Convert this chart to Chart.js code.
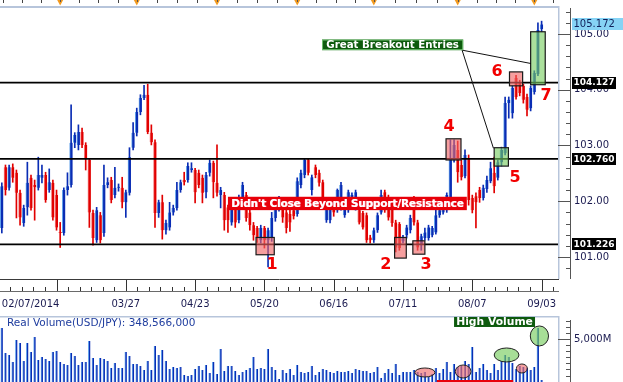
<!DOCTYPE html>
<html><head><meta charset="utf-8">
<script src="https://cdn.jsdelivr.net/npm/chart.js@4.4.1/dist/chart.umd.min.js"></script>
<style>
html,body{margin:0;padding:0;background:#fff;width:623px;height:382px;overflow:hidden}
#c1{position:absolute;left:0;top:0}
#c2{position:absolute;left:0;top:316px}
</style></head>
<body>
<canvas id="c1" width="623" height="316"></canvas>
<canvas id="c2" width="623" height="84"></canvas>
<script>
// ---------------- DATA ----------------
const openP = [101.52,102.61,102.24,102.61,102.51,102.15,101.61,101.89,102.42,102.29,
102.24,102.42,102.47,102.20,102.33,102.11,101.44,101.43,102.20,102.29,
103.05,103.01,103.24,103.01,102.74,101.79,101.30,101.75,101.43,102.29,
102.38,102.11,102.24,102.24,101.98,102.15,102.96,103.23,103.60,103.85,
103.91,103.23,103.06,101.79,101.98,101.48,101.53,101.80,101.88,102.20,
102.38,102.38,102.56,102.56,102.51,102.42,102.16,102.51,102.69,102.33,
102.11,102.11,101.89,101.62,102.02,101.66,102.06,102.11,101.80,101.57,
101.52,101.30,101.52,101.30,101.34,101.70,101.88,101.93,101.80,101.77,
101.84,101.77,102.29,102.47,102.74,102.20,102.61,102.51,102.34,101.66,
101.66,101.98,101.84,101.89,101.75,101.84,101.93,101.89,101.84,101.79,
101.75,101.35,101.30,101.48,101.80,102.16,102.07,101.89,101.62,101.59,
101.28,101.39,101.48,102.06,101.62,101.21,101.34,101.34,101.39,101.44,
101.75,101.80,101.84,101.93,102.77,102.92,102.65,102.45,102.77,102.06,
102.09,102.20,102.06,102.22,102.36,102.51,102.42,102.70,102.86,103.76,
103.58,104.21,104.12,104.07,103.87,103.67,103.96,104.28,105.09];
const highP = [102.33,102.65,102.65,102.67,102.56,102.20,101.93,102.70,102.47,102.38,
102.79,102.65,102.52,102.58,102.38,102.20,101.62,102.24,102.51,103.73,
103.23,103.37,103.31,103.05,102.77,101.84,101.89,101.80,102.65,102.42,
102.43,102.61,102.31,102.43,102.20,102.96,103.41,103.67,103.91,104.08,
104.10,103.37,103.10,102.02,102.11,101.66,101.98,101.93,102.34,102.38,
102.52,102.69,102.69,102.59,102.56,102.47,102.52,102.74,102.72,103.01,
102.25,102.16,101.93,102.02,102.06,102.11,102.34,102.16,101.84,101.62,
101.55,101.57,101.55,101.52,101.80,101.93,102.09,102.02,101.84,101.84,
101.89,102.42,102.56,102.77,102.77,102.47,102.65,102.56,102.38,102.02,
101.93,102.02,102.22,102.34,101.98,102.20,102.15,102.20,101.88,101.82,
101.79,101.39,101.52,101.79,102.20,102.20,102.11,101.95,101.66,101.62,
101.39,101.57,101.75,102.09,101.66,101.41,101.52,101.57,101.55,101.84,
101.88,101.97,102.15,103.10,103.10,103.08,102.74,102.92,102.83,102.11,
102.15,102.25,102.29,102.45,102.70,102.79,102.74,102.97,103.87,103.87,
104.07,104.26,104.17,104.10,103.92,104.07,104.34,105.20,105.23];
const lowP = [101.43,102.11,102.20,102.34,101.70,101.57,101.55,101.75,101.84,101.66,
102.20,102.33,101.98,102.16,101.66,101.48,101.17,101.39,102.11,102.25,
102.96,102.92,102.96,102.56,101.53,101.21,101.26,101.25,101.37,102.24,
101.97,102.06,102.18,101.88,101.71,102.11,102.92,103.17,103.55,103.82,
103.21,103.01,101.53,101.71,101.32,101.41,101.48,101.75,101.84,102.16,
102.29,102.34,102.52,101.97,102.24,101.97,102.06,102.45,102.06,102.09,
101.88,101.48,101.44,101.57,101.53,101.61,102.02,101.64,101.48,101.30,
101.26,101.25,101.16,100.82,101.28,101.64,101.82,101.62,101.43,101.46,
101.68,101.73,102.24,102.42,102.47,102.11,102.42,102.27,102.02,101.62,
101.61,101.73,101.80,101.84,101.71,101.80,101.88,101.84,101.59,101.50,
101.26,101.25,101.26,101.44,101.77,101.80,101.66,101.55,101.09,101.12,
101.25,101.34,101.43,101.57,101.12,101.12,101.30,101.30,101.36,101.41,
101.71,101.77,101.80,101.89,102.70,102.34,102.38,102.42,101.93,101.79,
101.52,101.98,102.02,102.16,102.33,102.15,102.38,102.63,102.83,103.49,
103.49,103.83,103.89,103.76,103.53,103.62,103.92,104.25,105.04];
const closeP = [102.27,102.20,102.61,102.42,102.15,101.71,101.88,102.33,101.88,102.25,
102.47,102.47,102.02,102.34,101.71,101.53,101.43,102.20,102.27,103.05,
103.19,103.24,103.01,102.77,101.80,101.34,101.84,101.30,102.29,102.34,
102.02,102.24,102.25,101.98,102.16,102.79,103.23,103.60,103.85,103.91,
103.24,103.06,101.79,101.98,101.48,101.61,101.80,101.88,102.20,102.34,
102.34,102.63,102.59,102.16,102.29,102.15,102.47,102.69,102.34,102.15,
102.20,101.66,101.66,101.98,101.62,102.06,102.29,101.70,101.57,101.39,
101.35,101.52,101.30,101.48,101.70,101.88,102.02,101.71,101.52,101.62,
101.73,102.36,102.51,102.74,102.51,102.43,102.47,102.33,102.07,101.98,
101.89,101.80,102.20,102.29,101.93,102.16,102.11,102.16,101.62,101.53,
101.30,101.30,101.48,101.75,102.11,101.84,101.71,101.61,101.17,101.16,
101.34,101.53,101.70,101.62,101.17,101.37,101.44,101.53,101.52,101.75,
101.84,101.93,102.11,102.77,103.01,102.52,102.43,102.83,102.02,101.84,
101.98,102.06,102.24,102.38,102.59,102.27,102.70,102.92,103.76,103.82,
104.03,103.87,103.94,103.82,103.64,104.03,104.30,105.07,105.172];
// volume, millions
const volumeM = [5900,3850,3690,3120,4920,4670,3200,4670,3940,5170,
3280,3530,3360,3200,3940,4020,3120,2950,2870,3850,
3610,2870,3120,3120,4840,3440,2870,3440,3360,3200,
2620,3030,2620,2620,3940,3610,2950,2950,2790,2460,
3200,2460,4430,3690,4100,3200,2540,2710,2620,2710,
2050,1970,2050,2540,2790,2460,2870,2210,3120,2130,
4180,2380,2790,2790,2380,2050,2300,2460,2620,3530,
2540,2620,2540,4180,2710,2460,1720,2460,2210,2540,
2050,2870,2300,2210,2300,2790,2050,2300,2540,2460,
2300,2210,2380,2300,2300,2380,2210,2540,2460,2380,
2380,2210,2300,2710,1800,2210,2540,2210,2950,2050,
2300,2300,2300,2460,2300,2210,2300,1890,2130,2620,
2210,2540,3120,2300,2950,2710,2790,3200,2950,4350,
2300,2620,2950,2460,2210,2950,2460,3200,3690,3530,
3030,2540,2790,2710,2620,2460,2710,5900,1640];
const priceTicks = [101, 102, 103, 104, 105];
const levels = [104.127, 102.760, 101.226];
const lastPrice = 105.172;
const dateTickDates = ['02/07/2014','03/27/2014','04/23/2014','05/20/2014','06/16/2014','07/11/2014','08/07/2014','09/03/2014'];
const dateTickLabels = ['02/07/2014','03/27','04/23','05/20','06/16','07/11','08/07','09/03'];
const majorDateDates = ['02/28/2014','03/27/2014','04/23/2014','05/20/2014','06/16/2014','07/11/2014','08/07/2014','09/03/2014'];
const volumeTicks = [5000];
const volumeTitle = 'Real Volume(USD/JPY): 348,566,000';

// trading-day categories (weekdays) incl. a few empty future slots
function weekdays(startISO, n){
  const out=[]; const d=new Date(startISO+'T00:00:00Z');
  while(out.length<n){
    const wd=d.getUTCDay();
    if(wd!==0&&wd!==6){
      const mm=String(d.getUTCMonth()+1).padStart(2,'0'), dd=String(d.getUTCDate()).padStart(2,'0');
      out.push(mm+'/'+dd+'/'+d.getUTCFullYear());
    }
    d.setUTCDate(d.getUTCDate()+1);
  }
  return out;
}
const categories = weekdays('2014-02-07', 153);

// annotations (data coordinates: category index, price)
const boxes = [
  {i0:69.7,i1:74.7,p0:101.35,p1:101.04,kind:'red'},
  {i0:107.7,i1:110.9,p0:101.35,p1:100.98,kind:'red'},
  {i0:112.7,i1:116.0,p0:101.29,p1:101.05,kind:'red'},
  {i0:121.8,i1:125.9,p0:103.12,p1:102.74,kind:'red'},
  {i0:135.0,i1:138.9,p0:102.96,p1:102.63,kind:'green'},
  {i0:139.2,i1:142.8,p0:104.32,p1:104.07,kind:'red'},
  {i0:145.0,i1:149.0,p0:105.04,p1:104.09,kind:'green'}
];
const numberLabels = [
  {t:'1',i:74.1,p:100.86},{t:'2',i:105.3,p:100.86},{t:'3',i:116.3,p:100.86},
  {t:'4',i:122.6,p:103.33},{t:'5',i:140.7,p:102.42},{t:'6',i:135.8,p:104.32},{t:'7',i:149.2,p:103.89}
];
const breakoutLabel = {t:'Great Breakout Entries', i0:87.8, i1:126.5, p0:104.90, p1:104.71};
const breakoutLines = [{i0:126.2,p0:104.71,i1:145.1,p1:104.47},{i0:126.2,p0:104.71,i1:134.8,p1:102.95}];
const closeBanner = {t:"Didn't Close Beyond Support/Resistance", i0:62.0, i1:127.5, p0:102.08, p1:101.84};
const volLabel = {t:'High Volume', i0:124.0, i1:146.2, v0:6806, v1:5986};
const volEllipses = [
  {i:147.4,v:5250,ri:2.5,rv:820,kind:'green'},
  {i:138.4,v:3690,ri:3.4,rv:574,kind:'green'},
  {i:142.6,v:2583,ri:1.5,rv:369,kind:'red'},
  {i:116.0,v:2255,ri:2.75,rv:369,kind:'red'},
  {i:126.5,v:2337,ri:2.15,rv:533,kind:'red'}
];

// ---------------- STYLE ----------------
const FONT = '"DejaVu Sans", Verdana, sans-serif';
const AXIS_TXT = '#1a1a50';
const UP='#0a2db4', UP_EDGE='#62a2ea', DN='#e10000', DN_EDGE='#f38080';
const isUp = closeP.map((c,i)=>c>=openP[i]);

function fitFont(ctx, text, maxW, size, weight){
  let s=size;
  while(s>6){ ctx.font=weight+' '+s+'px '+FONT; if(ctx.measureText(text).width<=maxW) break; s-=0.25; }
  return ctx.font;
}
function noPad(s){ s.paddingTop=0; s.paddingBottom=0; s.paddingLeft=0; s.paddingRight=0; }

const mainDecor = {
  id:'mainDecor',
  afterDraw(chart){
    const {ctx, chartArea:a, scales:{x,y}} = chart;
    const X=i=>x.getPixelForValue(i), Y=p=>y.getPixelForValue(p);
    ctx.save();
    // top strip + borders
    ctx.fillStyle='#b7c5db';
    ctx.fillRect(0,a.top-2,a.right+1,2);
    ctx.fillRect(a.right,a.top-2,1.5,a.bottom-a.top+2);
    // month markers on top strip
    const monthStarts=[];
    for(let i=1;i<categories.length;i++) if(categories[i].slice(0,2)!==categories[i-1].slice(0,2)) monthStarts.push(i);
    const step0=(monthStarts[1]-monthStarts[0])/4;
    const small=[];
    for(let v=monthStarts[0]-step0; v>-1; v-=step0) small.push(v);
    for(let k=0;k<monthStarts.length;k++){
      const s=monthStarts[k], e=(k+1<monthStarts.length)?monthStarts[k+1]:s+4*step0;
      for(let q=1;q<4;q++) small.push(s+(e-s)*q/4);
    }
    ctx.strokeStyle='#444'; ctx.lineWidth=1;
    small.forEach(v=>{const px=Math.round(X(v))+0.5; if(px<a.right){ctx.beginPath();ctx.moveTo(px,0);ctx.lineTo(px,3);ctx.stroke();}});
    monthStarts.forEach(v=>{
      const px=X(v);
      ctx.fillStyle='#f39a1e';
      ctx.beginPath(); ctx.moveTo(px-3,0); ctx.lineTo(px+3,0); ctx.lineTo(px,5.5); ctx.closePath(); ctx.fill();
      ctx.strokeStyle='#555'; ctx.beginPath(); ctx.moveTo(Math.round(px)+0.5,0); ctx.lineTo(Math.round(px)+0.5,2); ctx.stroke();
    });
    // date strip
    ctx.strokeStyle='#3a3a3a'; ctx.lineWidth=1;
    ctx.beginPath(); ctx.moveTo(0,a.bottom+0.5); ctx.lineTo(a.right+1,a.bottom+0.5); ctx.stroke();
    ctx.strokeStyle='#6a6a6a';
    ctx.beginPath(); ctx.moveTo(0,a.bottom+12.5); ctx.lineTo(a.right+1,a.bottom+12.5); ctx.stroke();
    const majors=majorDateDates.map(d=>categories.indexOf(d));
    ctx.strokeStyle='#333';
    majors.forEach((m,k)=>{
      const px=Math.round(X(m))+0.5;
      ctx.beginPath(); ctx.moveTo(px,a.bottom+1); ctx.lineTo(px,a.bottom+12); ctx.stroke();
      const prev = k>0?majors[k-1]:m-(majors[1]-majors[0]);
      for(let q=1;q<6;q++){
        const v=prev+(m-prev)*q/6; const qx=Math.round(X(v))+0.5;
        if(qx<0) continue;
        ctx.beginPath(); ctx.moveTo(qx,a.bottom+8); ctx.lineTo(qx,a.bottom+12); ctx.stroke();
      }
    });
    for(let q=1;q<4;q++){const m=majors[majors.length-1]; const qx=Math.round(X(m+(19/6)*q))+0.5; if(qx<a.right){ctx.beginPath(); ctx.moveTo(qx,a.bottom+8); ctx.lineTo(qx,a.bottom+12); ctx.stroke();}}
    // right axis tick marks
    ctx.strokeStyle='#555';
    ctx.beginPath(); ctx.moveTo(570.5,a.top); ctx.lineTo(570.5,a.bottom); ctx.stroke();
    for(let v=Math.ceil(y.min*5)/5; v<=y.max; v+=0.2){
      const py=Math.round(Y(v))+0.5;
      const major=Math.abs(v-Math.round(v))<1e-6;
      ctx.beginPath(); ctx.moveTo(major?558:566,py); ctx.lineTo(571,py); ctx.stroke();
    }
    // support / resistance levels
    ctx.strokeStyle='#000'; ctx.lineWidth=1.6;
    levels.forEach(l=>{const py=Y(l); ctx.beginPath(); ctx.moveTo(0,py); ctx.lineTo(a.right,py); ctx.stroke();});
    // price boxes on axis
    const tag=(v,bg,fg,w,bold)=>{
      const py=Y(v);
      ctx.fillStyle=bg; ctx.fillRect(572,Math.round(py)-6,w,12);
      ctx.fillStyle=fg; ctx.font=fitFont(ctx,v.toFixed(3),w-3,10,bold?'bold':'normal'); ctx.textBaseline='middle'; ctx.textAlign='left';
      ctx.fillText(v.toFixed(3),573.5,py+0.5);
    };
    tag(lastPrice,'#86d3f5','#10205a',51,false);
    levels.forEach(l=>tag(l,'#000','#fff',44,true));
    // annotation boxes
    boxes.forEach(b=>{
      const x0=X(b.i0), x1=X(b.i1), y0=Y(b.p0), y1=Y(b.p1);
      ctx.fillStyle = b.kind==='red' ? 'rgba(240,100,100,0.62)' : 'rgba(120,205,95,0.62)';
      ctx.fillRect(x0,y0,x1-x0,y1-y0);
      ctx.strokeStyle='#1a1a1a'; ctx.lineWidth=1.2;
      ctx.strokeRect(x0,y0,x1-x0,y1-y0);
    });
    // number labels
    ctx.fillStyle='#f20000'; ctx.font='bold 16px '+FONT; ctx.textAlign='center'; ctx.textBaseline='middle';
    numberLabels.forEach(n=>ctx.fillText(n.t,X(n.i),Y(n.p)));
    // breakout callout lines
    ctx.strokeStyle='#111'; ctx.lineWidth=1;
    breakoutLines.forEach(l=>{ctx.beginPath(); ctx.moveTo(X(l.i0),Y(l.p0)); ctx.lineTo(X(l.i1),Y(l.p1)); ctx.stroke();});
    // green label
    const gl=breakoutLabel; let bx0=X(gl.i0), bx1=X(gl.i1), by0=Y(gl.p0), by1=Y(gl.p1);
    ctx.fillStyle='#0d5a0d'; ctx.fillRect(bx0,by0,bx1-bx0,by1-by0);
    ctx.strokeStyle='#6fbf6f'; ctx.lineWidth=1; ctx.strokeRect(bx0+0.5,by0+0.5,bx1-bx0-1,by1-by0-1);
    ctx.fillStyle='#fff'; ctx.font=fitFont(ctx,gl.t,bx1-bx0-6,11,'bold'); ctx.textAlign='center'; ctx.textBaseline='middle';
    ctx.fillText(gl.t,(bx0+bx1)/2,(by0+by1)/2+0.5);
    // red banner
    const cb=closeBanner; bx0=X(cb.i0); bx1=X(cb.i1); by0=Y(cb.p0); by1=Y(cb.p1);
    ctx.fillStyle='#e8000a'; ctx.fillRect(bx0,by0,bx1-bx0,by1-by0);
    ctx.font=fitFont(ctx,cb.t,bx1-bx0-6,11,'bold');
    ctx.fillStyle='#f7b5c8'; ctx.fillText(cb.t,(bx0+bx1)/2+0.7,(by0+by1)/2+1.2);
    ctx.fillStyle='#fff'; ctx.fillText(cb.t,(bx0+bx1)/2,(by0+by1)/2+0.5);
    ctx.restore();
  }
};

const volDecor = {
  id:'volDecor',
  afterDraw(chart){
    const {ctx, chartArea:a, scales:{x,y}} = chart;
    const X=i=>x.getPixelForValue(i), Y=v=>y.getPixelForValue(v);
    ctx.save();
    ctx.fillStyle='#b7c5db';
    ctx.fillRect(0,0,a.right+1,1.5);
    ctx.fillRect(a.right,0,1.5,a.bottom);
    // axis ticks
    ctx.strokeStyle='#555'; ctx.lineWidth=1;
    ctx.beginPath(); ctx.moveTo(570.5,4); ctx.lineTo(570.5,a.bottom); ctx.stroke();
    for(let v=0; v<=y.max; v+=500){
      const py=Math.round(Y(v))+0.5; const major=v%5000===0&&v>0;
      if(py<4) continue;
      ctx.beginPath(); ctx.moveTo(major?558:566,py); ctx.lineTo(571,py); ctx.stroke();
    }
    // title
    ctx.fillStyle='#1e3c9e'; ctx.font='10.5px '+FONT; ctx.textAlign='left'; ctx.textBaseline='middle';
    ctx.fillText(volumeTitle,7,7);
    // ellipses
    volEllipses.forEach(e=>{
      const cx=X(e.i), cy=Y(e.v), rx=Math.abs(X(e.i+e.ri)-cx), ry=Math.abs(Y(e.v+e.rv)-cy);
      ctx.beginPath(); ctx.ellipse(cx,cy,rx,ry,0,0,Math.PI*2);
      ctx.fillStyle = e.kind==='green'?'rgba(120,205,95,0.65)':'rgba(240,110,110,0.65)';
      ctx.fill(); ctx.strokeStyle='#222'; ctx.lineWidth=1; ctx.stroke();
    });
    // High Volume label
    const hl=volLabel; const bx0=X(hl.i0), bx1=X(hl.i1), by0=Y(hl.v0), by1=Y(hl.v1);
    ctx.fillStyle='#0d5a0d'; ctx.fillRect(bx0,by0,bx1-bx0,by1-by0);
    ctx.fillStyle='#fff'; ctx.font=fitFont(ctx,hl.t,bx1-bx0-4,11,'bold'); ctx.textAlign='center';
    ctx.fillText(hl.t,(bx0+bx1)/2,(by0+by1)/2+0.5);
    // partially visible red label at bottom
    ctx.fillStyle='#e8000a'; ctx.fillRect(X(119.3),64,X(140.2)-X(119.3),10);
    ctx.restore();
  }
};

Chart.defaults.font.family = FONT;
Chart.defaults.animation = false;

new Chart(document.getElementById('c1'), {
  type:'bar',
  data:{
    labels: categories,
    datasets:[
      { label:'body', data: openP.map((o,i)=>[o,closeP[i]]), order:0, grouped:false, barThickness:3, minBarLength:1,
        backgroundColor: isUp.map(u=>u?UP:DN), borderColor: isUp.map(u=>u?UP_EDGE:DN_EDGE),
        borderWidth:{left:1,right:0,top:0,bottom:0}, borderSkipped:false },
      { label:'wick', data: lowP.map((l,i)=>[l,highP[i]]), order:1, grouped:false, barThickness:1,
        backgroundColor: isUp.map(u=>u?UP:DN), borderWidth:0 }
    ]
  },
  options:{
    responsive:false, devicePixelRatio:1, animation:false,
    layout:{ padding:{top:8,left:0,right:0,bottom:0}, autoPadding:false },
    plugins:{ legend:{display:false}, tooltip:{enabled:false} },
    scales:{
      x:{ type:'category', offset:true, grid:{display:false, drawTicks:false}, border:{display:false},
          afterBuildTicks(s){ s.ticks = dateTickDates.map(d=>({value:categories.indexOf(d)})).concat([{value:categories.length-1}]); },
          afterFit(s){ s.height=37; noPad(s); },
          ticks:{ autoSkip:false, maxRotation:0, minRotation:0, align:'inner', padding:19, color:AXIS_TXT, font:{size:10, family:FONT},
                  callback(v){ const k=dateTickDates.indexOf(categories[v]); return k>=0?dateTickLabels[k]:''; } } },
      y:{ position:'right', min:100.605, max:105.466, grid:{display:false, drawTicks:false}, border:{display:false},
          afterBuildTicks(s){ s.ticks = priceTicks.map(v=>({value:v})); },
          afterFit(s){ s.width=65; noPad(s); },
          ticks:{ padding:16, color:AXIS_TXT, font:{size:10, family:FONT}, callback:v=>Number(v).toFixed(2) } }
    }
  },
  plugins:[mainDecor]
});

new Chart(document.getElementById('c2'), {
  type:'bar',
  data:{ labels: categories, datasets:[{ label:'volume', data: volumeM, barThickness:2,
    backgroundColor:'#0a2db4', borderColor:'#62a2ea', borderWidth:{left:1,right:0,top:0,bottom:0}, borderSkipped:false }] },
  options:{
    responsive:false, devicePixelRatio:1, animation:false,
    layout:{ padding:0, autoPadding:false },
    plugins:{ legend:{display:false}, tooltip:{enabled:false} },
    scales:{
      x:{ type:'category', offset:true, display:false },
      y:{ position:'right', min:0, max:6885, grid:{display:false, drawTicks:false}, border:{display:false},
          afterBuildTicks(s){ s.ticks = volumeTicks.map(v=>({value:v})); },
          afterFit(s){ s.width=65; noPad(s); },
          ticks:{ padding:16, color:AXIS_TXT, font:{size:10, family:FONT}, callback:v=>(v/1000).toFixed(3).replace('.',',')+'M' } }
    }
  },
  plugins:[volDecor]
});
</script>
</body></html>
